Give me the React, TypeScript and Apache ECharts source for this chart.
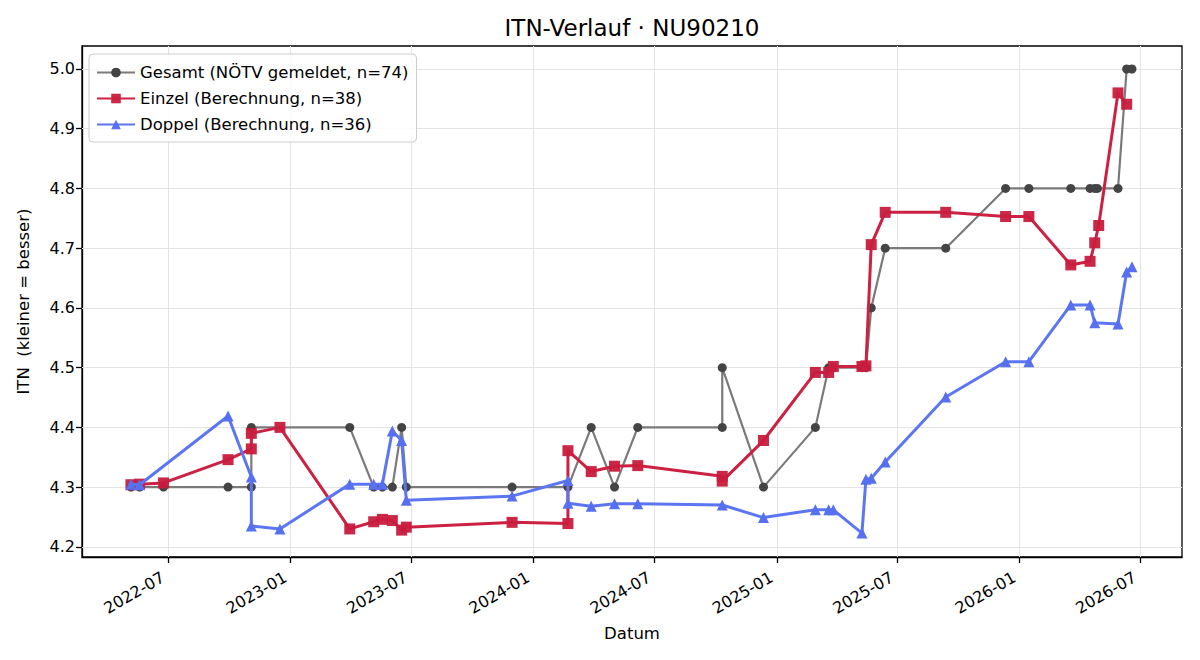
import React, { useEffect, useRef } from "react";
import * as echarts from "echarts";

const FONT = "DejaVu Sans";

const gesamtDates = [
  "2022-05-06", "2022-05-19", "2022-06-24", "2022-09-29", "2022-11-03", "2022-11-03",
  "2023-03-31", "2023-05-06", "2023-05-19", "2023-06-03", "2023-06-17", "2023-06-24",
  "2023-11-30", "2024-02-22", "2024-03-28", "2024-05-02", "2024-06-06", "2024-10-11",
  "2024-10-11", "2024-12-12", "2025-02-28", "2025-03-20", "2025-03-27", "2025-05-09",
  "2025-05-15", "2025-05-23", "2025-06-13", "2025-09-12", "2025-12-11", "2026-01-15",
  "2026-03-19", "2026-04-17", "2026-04-24", "2026-04-28", "2026-05-29", "2026-06-11",
  "2026-06-19",
];
const gesamtValues = [
  4.3, 4.3, 4.3, 4.3, 4.3, 4.4,
  4.4, 4.3, 4.3, 4.3, 4.4, 4.3,
  4.3, 4.3, 4.4, 4.3, 4.4, 4.4,
  4.5, 4.3, 4.4, 4.5, 4.5, 4.5,
  4.5, 4.6, 4.7, 4.7, 4.8, 4.8,
  4.8, 4.8, 4.8, 4.8, 4.8, 5.0,
  5.0,
];

const einzelDates = [
  "2022-05-06", "2022-05-19", "2022-06-24", "2022-09-29", "2022-11-03", "2022-11-03",
  "2022-12-16", "2023-03-31", "2023-05-06", "2023-05-19", "2023-06-03", "2023-06-17",
  "2023-06-24", "2023-11-30", "2024-02-22", "2024-02-22", "2024-03-28", "2024-05-02",
  "2024-06-06", "2024-10-11", "2024-10-11", "2024-12-12", "2025-02-28", "2025-03-20",
  "2025-03-27", "2025-05-09", "2025-05-15", "2025-05-23", "2025-06-13", "2025-09-12",
  "2025-12-11", "2026-01-15", "2026-03-19", "2026-04-17", "2026-04-24", "2026-04-30",
  "2026-05-29", "2026-06-11",
];
const einzelValues = [
  4.304, 4.305, 4.307, 4.346, 4.364, 4.39,
  4.4, 4.23, 4.242, 4.246, 4.244, 4.228,
  4.233, 4.241, 4.239, 4.361, 4.326, 4.335,
  4.336, 4.318, 4.31, 4.378, 4.492, 4.492,
  4.502, 4.502, 4.503, 4.706, 4.76, 4.76,
  4.753, 4.753, 4.672, 4.678, 4.709, 4.738,
  4.96, 4.941,
];

const doppelDates = [
  "2022-05-06", "2022-05-19", "2022-09-29", "2022-11-03", "2022-11-03", "2022-12-16",
  "2023-03-31", "2023-05-06", "2023-05-19", "2023-06-03", "2023-06-17", "2023-06-24",
  "2023-11-30", "2024-02-22", "2024-02-22", "2024-03-28", "2024-05-02", "2024-06-06",
  "2024-10-11", "2024-12-12", "2025-02-28", "2025-03-20", "2025-03-27", "2025-05-09",
  "2025-05-15", "2025-05-23", "2025-06-13", "2025-09-12", "2025-12-11", "2026-01-15",
  "2026-03-19", "2026-04-17", "2026-04-24", "2026-05-29", "2026-06-11", "2026-06-19",
];
const doppelValues = [
  4.305, 4.304, 4.419, 4.317, 4.235, 4.23,
  4.305, 4.305, 4.305, 4.394, 4.378, 4.278,
  4.285, 4.311, 4.273, 4.268, 4.272, 4.272,
  4.27, 4.249, 4.262, 4.262, 4.262, 4.223,
  4.313, 4.315, 4.342, 4.451, 4.51, 4.51,
  4.605, 4.605, 4.575, 4.573, 4.66, 4.669,
];

const xTickLabels = [
  "2022-07", "2023-01", "2023-07", "2024-01", "2024-07",
  "2025-01", "2025-07", "2026-01", "2026-07",
];
const yTickLabels = ["4.2", "4.3", "4.4", "4.5", "4.6", "4.7", "4.8", "4.9", "5.0"];

const X_MIN = "2022-02-21T10:00:00Z";
const X_MAX = "2026-09-02T05:00:00Z";
const Y_MIN = 4.183;
const Y_MAX = 5.0385;

const SERIES_NAMES = [
  "Gesamt (NÖTV gemeldet, n=74)",
  "Einzel (Berechnung, n=38)",
  "Doppel (Berechnung, n=36)",
];

const ts = (d: string) => Date.parse(d.length === 10 ? d + "T00:00:00Z" : d);
const pairs = (dates: string[], vals: number[]) => dates.map((d, i) => [ts(d), vals[i]]);

export default function App() {
  const ref = useRef<HTMLDivElement>(null);
  useEffect(() => {
    if (!ref.current) return;
    const chart = echarts.init(ref.current, null, { renderer: "svg" });
    const xTicks = xTickLabels.map((l) => ts(l + "-01"));
    const yTicks = yTickLabels.map((l) => parseFloat(l));
    const fmtX = (v: number) => {
      const d = new Date(v);
      return `${d.getUTCFullYear()}-${String(d.getUTCMonth() + 1).padStart(2, "0")}`;
    };
    chart.setOption({
      animation: false,
      textStyle: { fontFamily: FONT },
      title: {
        text: "ITN-Verlauf · NU90210",
        left: 632,
        textAlign: "center",
        top: 16,
        padding: 0,
        textStyle: { fontFamily: FONT, fontSize: 23, fontWeight: "normal", color: "#000" },
      },
      grid: {
        left: 82, right: 18, top: 46, bottom: 103,
        show: true, borderColor: "#000", borderWidth: 1.3, backgroundColor: "transparent",
      },
      legend: {
        data: SERIES_NAMES,
        orient: "vertical",
        left: 89,
        top: 54,
        z: 10,
        itemWidth: 38,
        itemHeight: 12,
        itemGap: 9,
        padding: [10, 8, 9, 7],
        backgroundColor: "rgba(255,255,255,0.85)",
        borderColor: "#cccccc",
        borderWidth: 1,
        borderRadius: 4,
        textStyle: { fontFamily: FONT, fontSize: 16.5, color: "#000" },
      },
      xAxis: {
        type: "value",
        min: ts(X_MIN),
        max: ts(X_MAX),
        name: "Datum",
        nameLocation: "middle",
        nameGap: 68,
        nameTextStyle: { fontFamily: FONT, fontSize: 16.5, color: "#000" },
        axisLine: { show: true, onZero: false, lineStyle: { color: "#000", width: 1.3 } },
        axisTick: { show: true, customValues: xTicks, length: 6, lineStyle: { color: "#000", width: 1.3 } },
        axisLabel: {
          customValues: xTicks,
          formatter: fmtX,
          rotate: 30,
          margin: 16,
          padding: [0, 6, 0, 0],
          fontFamily: FONT,
          fontSize: 16,
          color: "#000",
        },
        splitLine: { show: false },
      },
      yAxis: {
        type: "value",
        min: Y_MIN,
        max: Y_MAX,
        name: "ITN  (kleiner = besser)",
        nameLocation: "middle",
        nameGap: 50,
        nameRotate: 90,
        nameTextStyle: { fontFamily: FONT, fontSize: 16.5, color: "#000" },
        axisLine: { show: true, onZero: false, lineStyle: { color: "#000", width: 1.3 } },
        axisTick: { show: true, customValues: yTicks, length: 6, lineStyle: { color: "#000", width: 1.3 } },
        axisLabel: {
          customValues: yTicks,
          formatter: (v: number) => v.toFixed(1),
          margin: 7,
          fontFamily: FONT,
          fontSize: 16,
          color: "#000",
        },
        splitLine: { show: false },
      },
      series: [
        {
          name: "grid",
          type: "line",
          data: [[ts(X_MIN), Y_MIN]],
          showSymbol: false,
          symbol: "none",
          lineStyle: { opacity: 0 },
          silent: true,
          z: 0,
          markLine: {
            silent: true,
            z: 1,
            symbol: ["none", "none"],
            label: { show: false },
            lineStyle: { color: "#e3e3e3", width: 1, type: "solid" },
            data: [
              ...xTicks.map((t) => ({ xAxis: t })),
              ...yTicks.map((v) => ({ yAxis: v })),
            ],
          },
        },
        {
          name: SERIES_NAMES[0],
          type: "line",
          data: pairs(gesamtDates, gesamtValues),
          symbol: "circle",
          symbolSize: 9,
          lineStyle: { color: "#7a7a7a", width: 2.2 },
          itemStyle: { color: "#444444" },
          z: 2,
        },
        {
          name: SERIES_NAMES[1],
          type: "line",
          data: pairs(einzelDates, einzelValues),
          symbol: "rect",
          symbolSize: 11,
          lineStyle: { color: "#cc2142", width: 3 },
          itemStyle: { color: "#c81c3e", opacity: 0.95 },
          z: 3,
        },
        {
          name: SERIES_NAMES[2],
          type: "line",
          data: pairs(doppelDates, doppelValues),
          symbol: "triangle",
          symbolSize: 11,
          lineStyle: { color: "#5b76f0", width: 3 },
          itemStyle: { color: "#5670ef" },
          z: 4,
        },
      ],
    });
    return () => chart.dispose();
  }, []);
  return (
    <div
      ref={ref}
      style={{ position: "absolute", left: 0, top: 0, width: 1200, height: 660, background: "#fff" }}
    />
  );
}
